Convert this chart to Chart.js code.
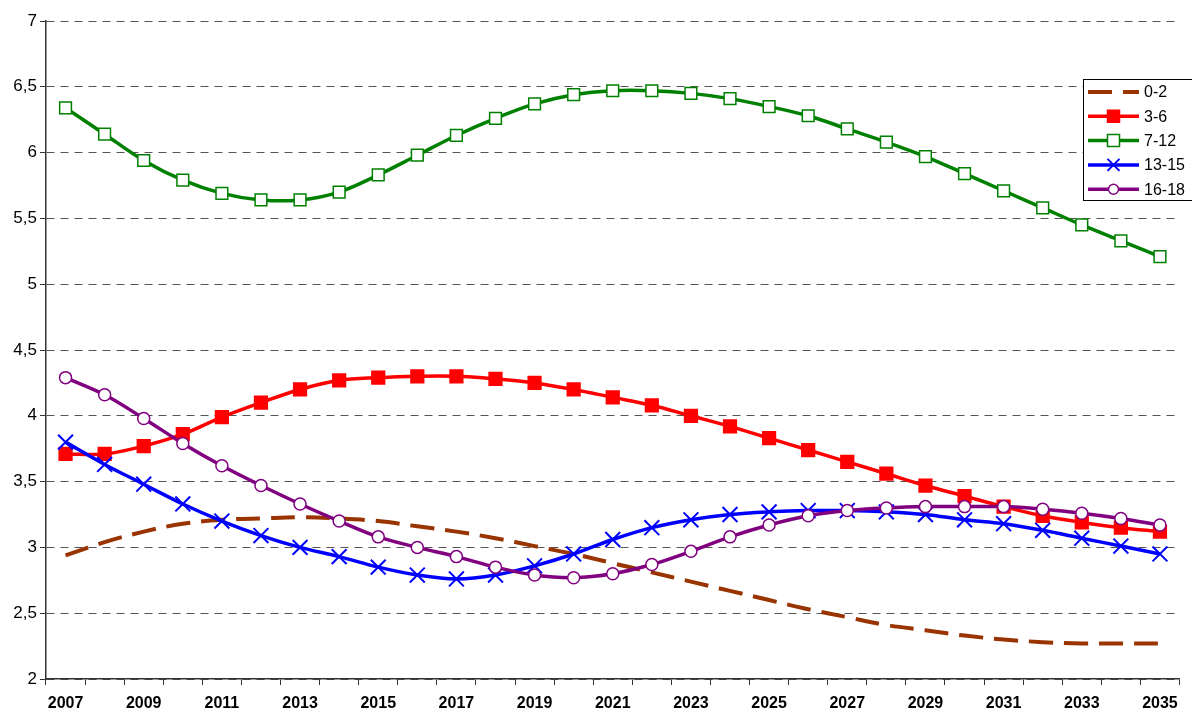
<!DOCTYPE html>
<html>
<head>
<meta charset="utf-8">
<script src="https://cdn.jsdelivr.net/npm/chart.js@4/dist/chart.umd.min.js"></script>
<style>
html,body{margin:0;padding:0;background:#fff;}
#wrap{width:1192px;height:713px;position:relative;}
</style>
</head>
<body>
<div id="wrap"><canvas id="ageChart"></canvas></div>
<script>
'use strict';
// Age group projection chart 2007-2035
var years = ['2007','2008','2009','2010','2011','2012','2013','2014','2015','2016','2017','2018','2019','2020','2021',
    '2022','2023','2024','2025','2026','2027','2028','2029','2030','2031','2032','2033','2034','2035'];
var age0_2 = [2.94,3.04,3.12,3.18,3.21,3.22,3.23,3.22,3.20,3.16,3.12,3.07,3.01,2.95,2.88,
    2.81,2.74,2.67,2.60,2.53,2.47,2.41,2.37,2.33,2.30,2.28,2.27,2.27,2.27];
var age3_6 = [3.71,3.71,3.77,3.86,3.99,4.10,4.20,4.27,4.29,4.30,4.30,4.28,4.25,4.20,4.14,
    4.08,4.00,3.92,3.83,3.74,3.65,3.56,3.47,3.39,3.31,3.24,3.19,3.15,3.12];
var age7_12 = [6.34,6.14,5.94,5.79,5.69,5.64,5.64,5.70,5.83,5.98,6.13,6.26,6.37,6.44,6.47,
    6.47,6.45,6.41,6.35,6.28,6.18,6.08,5.97,5.84,5.71,5.58,5.45,5.33,5.21];
var age13_15 = [3.80,3.63,3.48,3.33,3.20,3.09,3.00,2.93,2.85,2.79,2.76,2.79,2.86,2.95,3.06,
    3.15,3.21,3.25,3.27,3.28,3.28,3.27,3.25,3.21,3.18,3.13,3.07,3.01,2.95];
var age16_18 = [4.29,4.16,3.98,3.79,3.62,3.47,3.33,3.20,3.08,3.00,2.93,2.85,2.79,2.77,2.80,
    2.87,2.97,3.08,3.17,3.24,3.28,3.30,3.31,3.31,3.31,3.29,3.26,3.22,3.17];
var seriesLabels = ['0-2','3-6','7-12','13-15','16-18'];
var yMin = 2, yMax = 7, yStep = 0.5;

(function () {
    var FONT = "'Liberation Sans', Arial, sans-serif";

    function drawMarker(ctx, style, x, y, r, fill, stroke, lw)
    {
        ctx.save(); ctx.lineWidth = lw; ctx.strokeStyle = stroke; ctx.fillStyle = fill; ctx.setLineDash([]);
        ctx.beginPath();
        if (style === 'rect') {
            ctx.rect(x - r, y - r, r * 2, r * 2); ctx.fill(); ctx.stroke();
        } else if (style === 'circle') {
            ctx.arc(x, y, r, 0, Math.PI * 2); ctx.fill(); ctx.stroke();
        } else if (style === 'crossRot') {
            ctx.moveTo(x - r, y - r); ctx.lineTo(x + r, y + r);
            ctx.moveTo(x + r, y - r); ctx.lineTo(x - r, y + r); ctx.stroke();
        }
        ctx.restore(); }

    // legend box sits inside the plot, top right
    var boxLegend = {
        id:'boxLegend',
        afterDraw:function (chart) {
            var ctx = chart.ctx, sets = chart.data.datasets;
            var x0 = 1083.5, y0 = 79.5, rowH = 24.3;
            ctx.save();
            ctx.fillStyle = '#fff'; ctx.fillRect(x0, y0, 120, 121);
            ctx.strokeStyle = '#000'; ctx.lineWidth = 1; ctx.strokeRect(x0, y0, 120, 121);
            for (var i = 0; i < sets.length; i++) {
                var d = sets[i], cy = 92 + i * rowH;
                ctx.beginPath(); ctx.strokeStyle = d.borderColor; ctx.lineWidth = d.borderWidth;
                ctx.setLineDash(d.borderDash || []);
                ctx.moveTo(1088, cy); ctx.lineTo(1139, cy); ctx.stroke();
                ctx.setLineDash([]);
                if (d.pointRadius > 0) {
                    var r = d.pointStyle === 'circle' ? 5 : 6;
                    drawMarker(ctx, d.pointStyle, 1113.5, cy, r, d.pointBackgroundColor, d.pointBorderColor, d.pointBorderWidth);
                }
                ctx.fillStyle = '#000'; ctx.font = '16px ' + FONT; ctx.textBaseline = 'middle'; ctx.textAlign = 'left';
                ctx.fillText(d.label, 1144, cy + 1);
            }
            ctx.restore(); }
    };

    function line(label, data, color, extra)
    {
        var d = {
            label:label, data:data, borderColor:color, backgroundColor:color, borderWidth:3.5,
            tension:0.35, fill:false, pointRadius:0, pointHoverRadius:0,
            pointBackgroundColor:color, pointBorderColor:color, pointBorderWidth:1.5
        };
        for (var k in extra) {
            d[k] = extra[k]; }
        return d; }

    function init()
    {
        var el = document.getElementById('ageChart');
        new Chart(el.getContext('2d'), {
            type:'line',
            data:{
                labels:years,
                datasets:[
                    line(seriesLabels[0], age0_2, '#993300', { borderDash:[24, 11], borderWidth:4, order:5 }),
                    line(seriesLabels[1], age3_6, '#ff0000', { pointStyle:'rect', pointRadius:9, order:4 }),
                    line(seriesLabels[2], age7_12, '#008000', { pointStyle:'rect', pointRadius:8.3, pointBackgroundColor:'#fff', order:3 }),
                    line(seriesLabels[3], age13_15, '#0000ff', { pointStyle:'crossRot', pointRadius:10.5, pointBorderWidth:2, order:2 }),
                    line(seriesLabels[4], age16_18, '#800080', { pointStyle:'circle', pointRadius:6, pointBackgroundColor:'#fff', order:1 })
                ]
            },
            options:{
                responsive:true,
                maintainAspectRatio:false,
                animation:false,
                layout:{ padding:{ top:21, right:0, left:0, bottom:0 } },
                plugins:{ legend:{ display:false }, tooltip:{ enabled:false } },
                scales:{
                    x:{
                        offset:true,
                        grid:{ offset:true, drawOnChartArea:false, drawTicks:true, tickLength:6, color:'#333' },
                        border:{ display:true, color:'#333', width:1.5 },
                        ticks:{
                            autoSkip:false, maxRotation:0, padding:9, color:'#000',
                            font:{ family:FONT, size:16, weight:'bold' },
                            callback:function (v, i) {
                                return i % 2 === 0 ? years[i] : ''; }
                        },
                        afterFit:function (s) {
                            s.height = 34; }
                    },
                    y:{
                        min:yMin, max:yMax,
                        grid:{ color:'#555', tickLength:6, tickBorderDash:[], tickColor:'#333' },
                        border:{ display:true, color:'#333', width:1.5, dash:[8, 6] },
                        ticks:{
                            stepSize:yStep, padding:3, color:'#000',
                            font:{ family:FONT, size:17 },
                            callback:function (v) {
                                return String(v).replace('.', ','); }
                        },
                        afterFit:function (s) {
                            s.width = 46; }
                    }
                }
            },
            plugins:[boxLegend]
        });
    }
    if (document.readyState === 'loading') {
        document.addEventListener('DOMContentLoaded', init); } else {
        init();
    }
})();
</script>
</body>
</html>
